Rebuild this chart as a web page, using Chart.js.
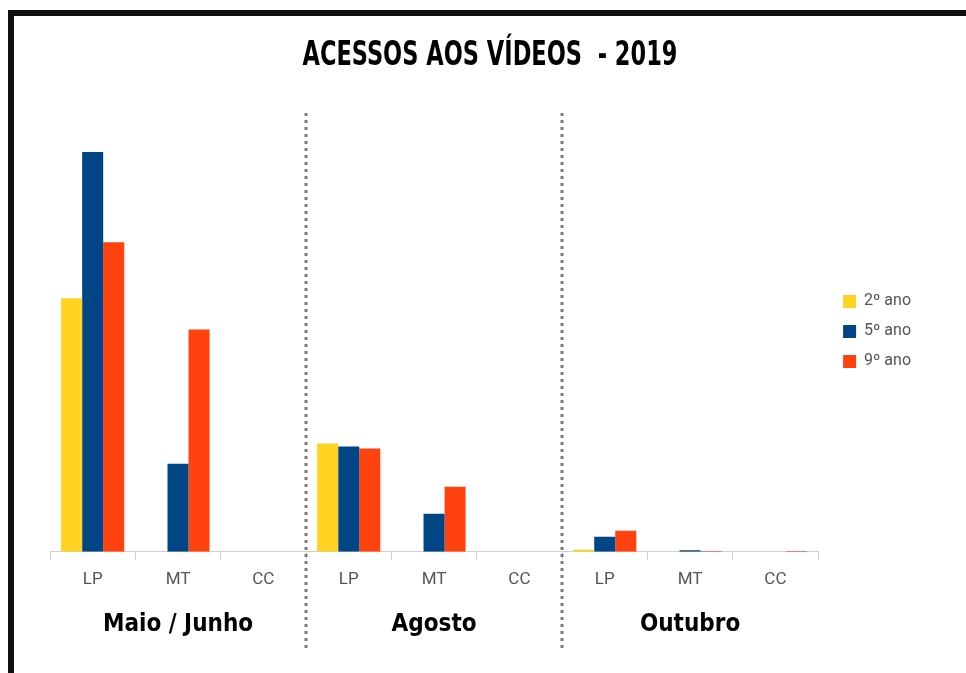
<!DOCTYPE html>
<html>
<head>
<meta charset="utf-8">
<script src="https://cdn.jsdelivr.net/npm/chart.js@4/dist/chart.umd.min.js"></script>
<style>
  html, body { margin: 0; padding: 0; background: #fff; overflow: hidden; }
  #frame { position: absolute; left: 8px; top: 10px; width: 980px; height: 700px;
           border-top: 6px solid #111; border-left: 6px solid #111; }
  #wrap { position: absolute; left: 14px; top: 16px; width: 952px; height: 657px; }
</style>
</head>
<body>
<div id="frame"></div>
<div id="wrap"><canvas id="mycanvas"></canvas></div>
<script>
// categories (per period) and period names
var chartTitle = 'ACESSOS AOS VÍDEOS  - 2019';
var categories = ['LP', 'MT', 'CC', 'LP', 'MT', 'CC', 'LP', 'MT', 'CC'];
var periods = ['Maio / Junho', 'Agosto', 'Outubro'];
var series_names = ['2º ano', '5º ano', '9º ano'];

// values (no axis in the original, approximate units)
var ano2 = [253, 0, 0, 108, 0, 0, 2, 0, 0];
var ano5 = [399, 88, 0, 105, 38, 0, 15, 1.5, 0];
var ano9 = [309, 222, 0, 103, 65, 0, 21, 0.8, 0.8];

var colors = ['#ffd320', '#004586', '#ff420e'];
var condensed = "'Liberation Sans Narrow', 'DejaVu Sans Condensed', 'Roboto Condensed', 'Arial Narrow', sans-serif";

// title squeezed like the original heavy condensed face
var squeezedTitle = {
  id: 'squeezedTitle',
  afterDraw: function(chart) {
    var ctx = chart.ctx;
    ctx.save();
    ctx.fillStyle = '#000';
    ctx.font = 'bold 33px ' + condensed;
    ctx.textAlign = 'center';
    ctx.textBaseline = 'middle';
    ctx.fillText(chartTitle, chart.width / 2, 40, 375);
    ctx.restore();
  }
};

// dotted lines between the periods
var separators = {
  id: 'separators',
  afterDraw: function(chart) {
    var x = chart.scales.x;
    var ctx = chart.ctx;
    ctx.save();
    ctx.strokeStyle = '#7a7a7a';
    ctx.lineWidth = 3;
    ctx.setLineDash([3, 4]);
    [3, 6].forEach(function(i) {
      var px = Math.round((x.getPixelForValue(i - 1) + x.getPixelForValue(i)) / 2);
      ctx.beginPath();
      ctx.moveTo(px, chart.chartArea.top + 2);
      ctx.lineTo(px, chart.height - 25);
      ctx.stroke();
    });
    ctx.restore();
  }
};

// push the legend a bit away from the plot
var legendShift = {
  id: 'legendShift',
  afterLayout: function(chart) {
    chart.legend.left += 11;
    chart.legend.right += 11;
  }
};

var chartdata = {
  labels: categories,
  datasets: [
    { label: series_names[0], data: ano2, backgroundColor: colors[0] },
    { label: series_names[1], data: ano5, backgroundColor: colors[1] },
    { label: series_names[2], data: ano9, backgroundColor: colors[2] }
  ]
};

var ctx = document.getElementById('mycanvas');

var BarGraph = new Chart(ctx, {
  type: 'bar',
  data: chartdata,
  plugins: [squeezedTitle, separators, legendShift],
  options: {
    responsive: true,
    maintainAspectRatio: false,
    animation: false,
    categoryPercentage: 0.74,
    barPercentage: 1.0,
    layout: { padding: { left: 36, right: 56, top: 95, bottom: 24 } },
    plugins: {
      title: { display: false },
      legend: {
        position: 'right',
        fullSize: false,
        labels: {
          boxWidth: 13,
          boxHeight: 13,
          padding: 14,
          color: '#555',
          font: { family: 'Roboto', size: 16 }
        }
      },
      tooltip: { enabled: false }
    },
    scales: {
      x: {
        grid: { drawOnChartArea: false, drawTicks: true, tickLength: 8, color: '#cfcfcf', offset: true },
        border: { display: true, color: '#cfcfcf' },
        ticks: { color: '#555', padding: 10, font: { family: 'Roboto', size: 17 } }
      },
      x2: {
        type: 'category',
        axis: 'x',
        labels: periods,
        position: 'bottom',
        offset: true,
        grid: { display: false, drawTicks: false },
        border: { display: false },
        ticks: { color: '#000', padding: 10, font: { family: condensed, weight: 'bold', size: 24 } }
      },
      y: {
        display: false,
        min: 0,
        max: 440
      }
    }
  }
});
</script>
</body>
</html>
